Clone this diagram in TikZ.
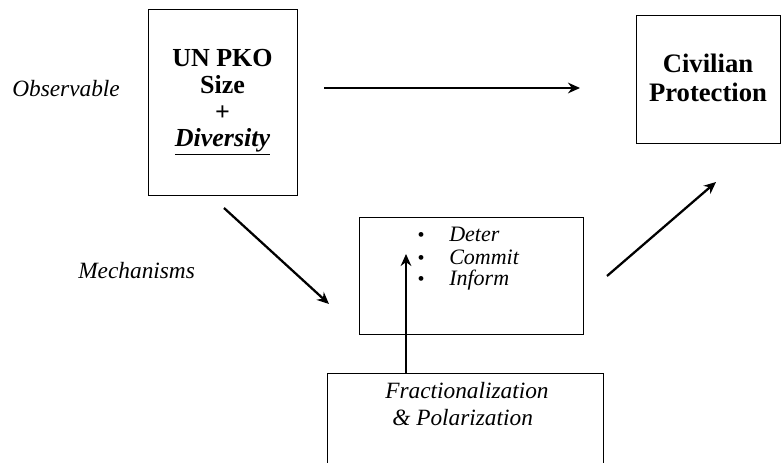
\documentclass[tikz,border=0pt]{standalone}
\usepackage{fontspec}
\setmainfont{Liberation Serif}
\usetikzlibrary{arrows.meta}
\begin{document}
\begin{tikzpicture}[x=0.75pt,y=-0.75pt,
  box/.style={draw=black,line width=0.7pt,inner sep=0pt},
  arr/.style={line width=1.7pt,-{Stealth[length=9pt,width=8pt]}},
  lbl/.style={font=\fontsize{17.5}{20}\selectfont\itshape,anchor=base west,inner sep=0pt},
  itm/.style={font=\fontsize{16.5}{20}\selectfont\itshape,anchor=base west,inner sep=0pt},
  bul/.style={font=\fontsize{15}{20}\selectfont,anchor=base,inner sep=0pt}]
\useasboundingbox (0,0) rectangle (781,463);
% boxes
\node[box,minimum width=111.75pt,minimum height=139.5pt] (pko) at (222.5,102) {};
\node[box,minimum width=108pt,minimum height=96pt] (civ) at (708,79) {};
\node[box,minimum width=168pt,minimum height=87.75pt] (mech) at (471,275.5) {};
\node[box,minimum width=207pt,minimum height=90pt] (frac) at (465,433) {};
% texts
\node[font=\fontsize{19.5}{20}\selectfont\bfseries,align=center,anchor=base,inner sep=0pt] (pkot) at (222.5,147)
  {UN PKO\\Size\\+\\\underline{\textit{Diversity}}};
\node[font=\fontsize{20}{21.75}\selectfont\bfseries,align=center,anchor=base,inner sep=0pt] (civt) at (708,102)
  {Civilian\\Protection};
\node[lbl] (obs) at (12,97) {Observable};
\node[lbl] (mec) at (78,278) {Mechanisms};
\node[bul] (b1) at (421,242) {\textbullet};
\node[bul] (b2) at (421,264) {\textbullet};
\node[bul] (b3) at (421,286) {\textbullet};
\node[itm] (t1) at (449,242) {Deter};
\node[itm] (t2) at (449,264) {Commit};
\node[itm] (t3) at (449,286) {Inform};
\node[lbl] (f1) at (385,398) {Fractionalization};
\node[lbl] (f2) at (392,425) {\& Polarization};
% arrow end points
\coordinate (a1s) at (324,88);
\coordinate (a1e) at (580,88);
\coordinate (a2s) at (224,208);
\coordinate (a2e) at (329,304);
\coordinate (a3s) at (406,373);
\coordinate (a3e) at (406,254);
\coordinate (a4s) at (607,276);
\coordinate (a4e) at (716,182);
\draw[arr] (a1s) -- (a1e);
\draw[arr] (a2s) -- (a2e);
\draw[arr] (frac.north -| a3s) -- (a3e);
\draw[arr] (a4s) -- (a4e);
\end{tikzpicture}
\end{document}
